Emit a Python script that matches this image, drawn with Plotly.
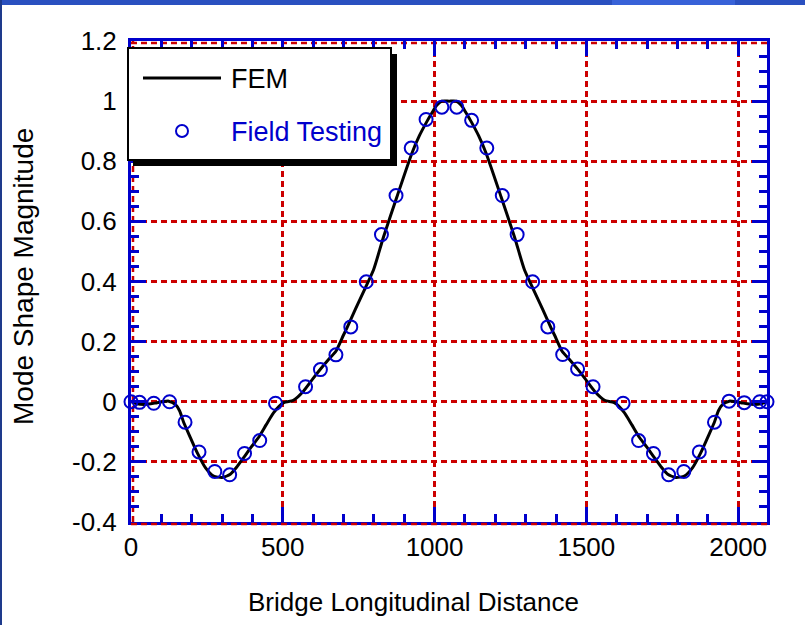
import plotly.graph_objects as go

# ---------------- data ----------------
fem_x = [0, 20, 42, 65, 86, 105, 124, 146, 160, 174, 196, 218, 245, 272, 300, 327,
         350, 371, 395, 420, 445, 470, 503, 535, 568, 600, 625, 650, 675, 700, 711,
         740, 770, 799, 832, 876, 925, 950, 974, 992, 1007, 1024, 1048,
         1071, 1088, 1103, 1121, 1145, 1170, 1219, 1263, 1296, 1325, 1355, 1384,
         1395, 1420, 1445, 1470, 1495, 1527, 1560, 1592, 1625, 1650, 1675, 1700,
         1724, 1745, 1768, 1795, 1823, 1850, 1877, 1899, 1921, 1935, 1949, 1971,
         1990, 2009, 2030, 2053, 2075, 2095]
fem_y = [0.0, -0.007, -0.009, -0.007, -0.003, 0.0, 0.002, -0.009, -0.03, -0.07,
         -0.12, -0.169, -0.219, -0.247, -0.252, -0.241, -0.215, -0.186, -0.152,
         -0.119, -0.077, -0.036, -0.003, 0.005, 0.035, 0.078, 0.11, 0.14, 0.168,
         0.222, 0.245, 0.31, 0.375, 0.439, 0.549, 0.682, 0.826, 0.885, 0.931,
         0.962, 0.986, 1.0, 1.0,
         1.0, 0.986, 0.962, 0.931, 0.885, 0.826, 0.682, 0.549, 0.439, 0.375,
         0.31, 0.245, 0.222, 0.168, 0.14, 0.11, 0.078, 0.035, 0.005, -0.003,
         -0.036, -0.077, -0.119, -0.152, -0.186, -0.215, -0.241, -0.252, -0.247,
         -0.219, -0.169, -0.12, -0.07, -0.03, -0.009, 0.002, 0.0, -0.003, -0.007,
         -0.009, -0.007, 0.0]

field_x = [0, 28, 75, 127, 178, 224, 276, 325, 374, 424, 476, 575, 624, 675, 724,
           775, 825, 873, 923, 972, 1024, 1073, 1122, 1172, 1223, 1272, 1323, 1373,
           1422, 1471, 1522, 1621, 1672, 1721, 1771, 1821, 1872, 1922, 1970, 2020,
           2071, 2095]
field_y = [0.0, -0.002, -0.005, 0.0, -0.068, -0.167, -0.232, -0.243, -0.172,
           -0.129, -0.005, 0.05, 0.107, 0.156, 0.249, 0.399, 0.556, 0.686, 0.844,
           0.939, 0.98, 0.98, 0.936, 0.844, 0.686, 0.556, 0.399, 0.249, 0.157,
           0.109, 0.05, -0.005, -0.129, -0.172, -0.243, -0.232, -0.167, -0.068,
           0.002, -0.003, 0.0, 0.0]

x_tickvals = [0, 500, 1000, 1500, 2000]
x_ticktext = ["0", "500", "1000", "1500", "2000"]
y_tickvals = [-0.4, -0.2, 0, 0.2, 0.4, 0.6, 0.8, 1.0, 1.2]
y_ticktext = ["-0.4", "-0.2", "0", "0.2", "0.4", "0.6", "0.8", "1", "1.2"]

series_names = ["FEM", "Field Testing"]

# ---------------- styling ----------------
BLUE = "#0000CC"
RED = "#CC0000"
FONT = "Liberation Sans, Arial, sans-serif"

W, H = 805, 625
L, R, T, B = 131, 767, 41, 522  # plot area in pixels
PW, PH = R - L, B - T


def px(xp):
    return (xp - L) / PW


def py(yp):
    return (B - yp) / PH


fig = go.Figure()
fig.add_trace(go.Scatter(x=fem_x, y=fem_y, mode="lines", name=series_names[0],
                         line=dict(color="black", width=3, shape="spline", smoothing=0.6),
                         showlegend=False))
fig.add_trace(go.Scatter(x=field_x, y=field_y, mode="markers", name=series_names[1],
                         marker=dict(symbol="circle-open", size=13, color=BLUE,
                                     line=dict(width=2, color=BLUE)),
                         cliponaxis=False, showlegend=False))

axis_common = dict(
    showline=True, linecolor=BLUE, linewidth=3, mirror="allticks",
    ticks="inside", ticklen=15, tickwidth=3, tickcolor=BLUE,
    showgrid=True, gridcolor=RED, gridwidth=2.5, griddash="6px,4px",
    zeroline=False,
    tickfont=dict(family=FONT, size=26, color="black"),
)

fig.update_xaxes(range=[0, 2095], tickvals=x_tickvals, ticktext=x_ticktext,
                 minor=dict(ticks="inside", ticklen=8, tickwidth=3, tickcolor=BLUE,
                            dtick=100, tick0=0, showgrid=False),
                 **axis_common)
fig.update_yaxes(range=[-0.4, 1.2], tickvals=y_tickvals, ticktext=y_ticktext,
                 ticklabelstandoff=6,
                 minor=dict(ticks="inside", ticklen=8, tickwidth=3, tickcolor=BLUE,
                            dtick=0.05, tick0=0, showgrid=False),
                 **axis_common)

shapes = []
# red dashed grid lines along the frame edges (under the blue frame)
shapes.append(dict(type="line", xref="paper", yref="paper", x0=0, x1=1,
                   y0=py(B + 2), y1=py(B + 2), line=dict(width=2.5, color=RED, dash="6px,4px"),
                   layer="above"))
shapes.append(dict(type="line", xref="paper", yref="paper", x0=0, x1=1,
                   y0=py(T + 2), y1=py(T + 2), line=dict(width=2.5, color=RED, dash="6px,4px"),
                   layer="below"))
shapes.append(dict(type="line", xref="paper", yref="paper", x0=px(L + 2), x1=px(L + 2),
                   y0=0, y1=1, line=dict(width=2.5, color=RED, dash="6px,4px"),
                   layer="below"))
# window decoration: top bar and left stripe
shapes.append(dict(type="rect", xref="paper", yref="paper", x0=px(0), x1=px(W),
                   y0=py(5), y1=py(0), fillcolor="#2A50C0", line=dict(width=0), layer="above"))
shapes.append(dict(type="rect", xref="paper", yref="paper", x0=px(612), x1=px(735),
                   y0=py(5), y1=py(0), fillcolor="#3862D8", line=dict(width=0), layer="above"))
shapes.append(dict(type="rect", xref="paper", yref="paper", x0=px(0), x1=px(2),
                   y0=py(H), y1=py(0), fillcolor="#1E3A8C", line=dict(width=0), layer="above"))
# legend box with shadow
shapes.append(dict(type="rect", xref="paper", yref="paper", x0=px(133), x1=px(397),
                   y0=py(166), y1=py(54), fillcolor="black", line=dict(width=0), layer="above"))
shapes.append(dict(type="rect", xref="paper", yref="paper", x0=px(128), x1=px(391),
                   y0=py(160), y1=py(48), fillcolor="white",
                   line=dict(width=2, color="black"), layer="above"))
shapes.append(dict(type="line", xref="paper", yref="paper", x0=px(143), x1=px(221),
                   y0=py(78), y1=py(78), line=dict(width=3, color="black"), layer="above"))
shapes.append(dict(type="circle", xref="paper", yref="paper", x0=px(176), x1=px(188),
                   y0=py(137), y1=py(125), line=dict(width=2, color=BLUE), layer="above"))

annotations = [
    dict(xref="paper", yref="paper", x=px(229), y=py(79), text=series_names[0],
         showarrow=False, xanchor="left", yanchor="middle",
         font=dict(family=FONT, size=27, color="black")),
    dict(xref="paper", yref="paper", x=px(229), y=py(132), text=series_names[1],
         showarrow=False, xanchor="left", yanchor="middle",
         font=dict(family=FONT, size=27, color=BLUE)),
    dict(xref="paper", yref="paper", x=px(413), y=py(602),
         text="Bridge Longitudinal Distance", showarrow=False,
         xanchor="center", yanchor="middle",
         font=dict(family=FONT, size=26, color="black")),
    dict(xref="paper", yref="paper", x=px(23), y=py(277),
         text="Mode Shape Magnitude", showarrow=False, textangle=-90,
         xanchor="center", yanchor="middle",
         font=dict(family=FONT, size=28, color="black")),
]

fig.update_layout(
    width=W, height=H,
    margin=dict(l=L, r=W - R, t=T, b=H - B, pad=0),
    paper_bgcolor="white", plot_bgcolor="white",
    shapes=shapes, annotations=annotations,
    showlegend=False,
)

fig.write_html("out.html", config={"displayModeBar": False},
               post_script="document.body.style.margin='0';document.body.style.overflow='hidden';")
